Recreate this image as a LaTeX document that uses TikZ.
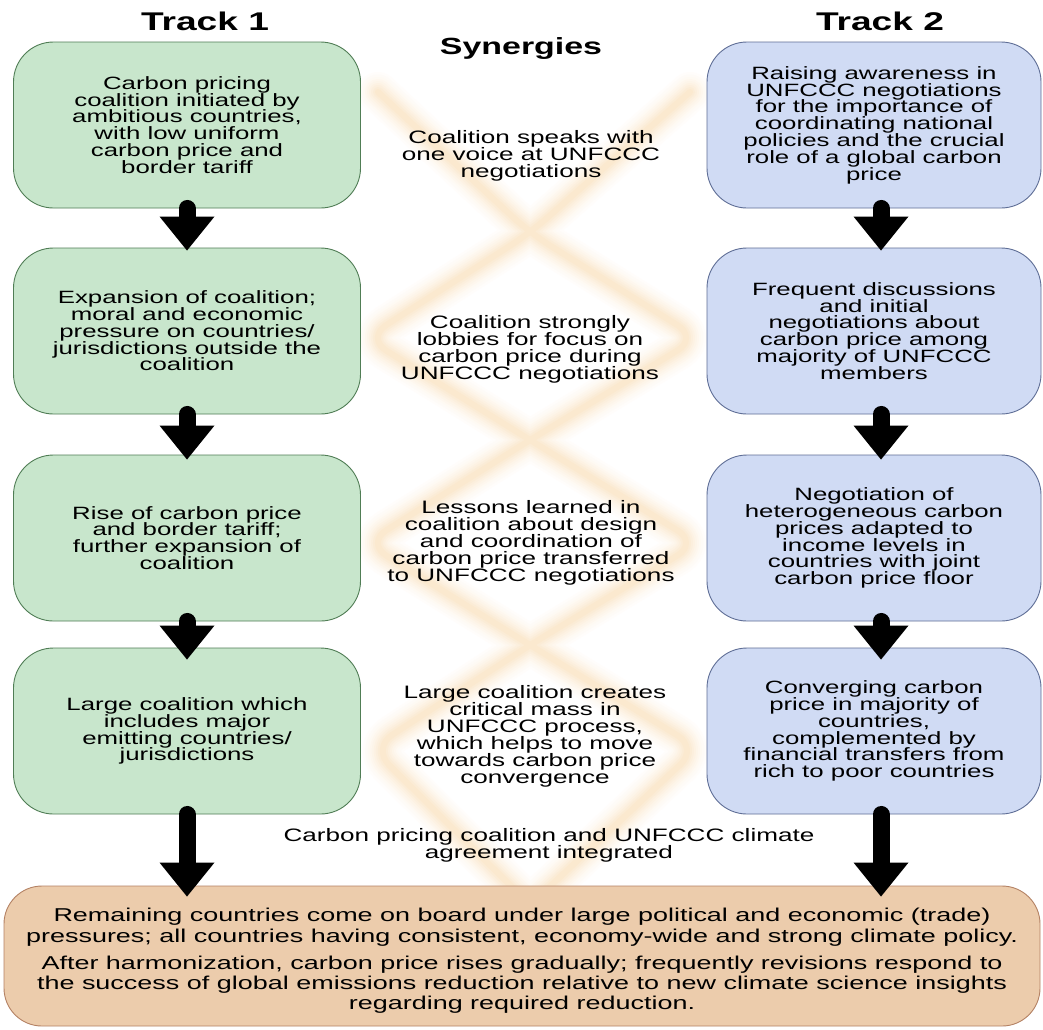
\documentclass[tikz,border=0pt]{standalone}
\usepackage{fontspec}
\setmainfont{Liberation Sans}[FakeStretch=1.45]
\usetikzlibrary{arrows.meta,calc}
\definecolor{gfill}{RGB}{200,230,204}
\definecolor{gline}{RGB}{80,125,85}
\definecolor{bfill}{RGB}{208,219,244}
\definecolor{bline}{RGB}{95,110,150}
\definecolor{ofill}{RGB}{236,204,172}
\definecolor{oline}{RGB}{180,130,100}
\definecolor{haloC}{RGB}{250,228,196}
\begin{document}
\begin{tikzpicture}[x=1pt,y=-1pt,
  box/.style={draw, line width=0.9pt, rounded corners=40pt, align=center, inner sep=0pt,
    font=\fontsize{17.8}{16.8}\selectfont},
  gbox/.style={box, fill=gfill, draw=gline, minimum width=347pt, minimum height=166pt},
  bbox/.style={box, fill=bfill, draw=bline, minimum width=334pt, minimum height=166pt},
  obox/.style={draw=oline, fill=ofill, line width=0.9pt, rounded corners=38pt,
    inner sep=0pt, minimum width=1036pt, minimum height=140pt},
  fintext/.style={align=center, inner sep=0pt, font=\fontsize{18.6}{20.3}\selectfont},
  syn/.style={align=center, inner sep=0pt, font=\fontsize{18}{17}\selectfont},
  ttl/.style={inner sep=0pt, anchor=base, font=\fontsize{25.6}{30}\selectfont\bfseries},
  bigarr/.style={line width=17pt, line cap=round, -{Triangle[width=55pt,length=34pt,line width=0pt]}},
  halo/.style={line join=round, line cap=round, rounded corners=24pt}
]
\fill[white] (0,0) rectangle (1043,1029);
\useasboundingbox (0,0) rectangle (1043,1029);

% background lattice (soft, blurred bands)
\foreach \w/\p in {40/7, 35/13, 30/20, 26/28, 22/37, 18/47, 14/58, 10/70, 6/82} {
  \draw[halo, line width=\w pt, haloC!\p!white] (378,92) -- (530,233) -- (698,338) -- (530,440) -- (366,543)
     -- (530,645) -- (698,748) -- (530,905);
  \draw[halo, line width=\w pt, haloC!\p!white] (690,92) -- (530,233) -- (366,338) -- (530,440) -- (698,543)
     -- (530,645) -- (372,748) -- (530,905);
}

% titles
\node[ttl] (t1) at (205,30) {Track 1};
\node[ttl] (t2) at (880,30) {Track 2};
\node[ttl, font=\fontsize{23.4}{28}\selectfont\bfseries] (syn) at (521,54) {Synergies};

% track 1
\node[gbox] (l1) at (187,125) {Carbon pricing\\coalition initiated by\\ambitious countries,\\with low uniform\\carbon price and\\border tariff};
\node[gbox] (l2) at (187,331) {Expansion of coalition;\\moral and economic\\pressure on countries/\\jurisdictions outside the\\coalition};
\node[gbox] (l3) at (187,538) {Rise of carbon price\\and border tariff;\\further expansion of\\coalition};
\node[gbox] (l4) at (187,731) {Large coalition which\\includes major\\emitting countries/\\jurisdictions};

% track 2
\node[bbox] (r1) at (874,125) {Raising awareness in\\UNFCCC negotiations\\for the importance of\\coordinating national\\policies and the crucial\\role of a global carbon\\price};
\node[bbox] (r2) at (874,331) {Frequent discussions\\and initial\\negotiations about\\carbon price among\\majority of UNFCCC\\members};
\node[bbox] (r3) at (874,538) {Negotiation of\\heterogeneous carbon\\prices adapted to\\income levels in\\countries with joint\\carbon price floor};
\node[bbox] (r4) at (874,731) {Converging carbon\\price in majority of\\countries,\\complemented by\\financial transfers from\\rich to poor countries};

% synergies
\node[syn] (s1) at (531,156) {Coalition speaks with\\one voice at UNFCCC\\negotiations};
\node[syn] (s2) at (530,349) {Coalition strongly\\lobbies for focus on\\carbon price during\\UNFCCC negotiations};
\node[syn] (s3) at (531,543) {Lessons learned in\\coalition about design\\and coordination of\\carbon price transferred\\to UNFCCC negotiations};
\node[syn] (s4) at (535,736) {Large coalition creates\\critical mass in\\UNFCCC process,\\which helps to move\\towards carbon price\\convergence};
\node[syn] (s5) at (549,845) {Carbon pricing coalition and UNFCCC climate\\agreement integrated};

% final box
\node[obox] (fin) at (522,956) {};
\node[fintext] (fint) at (522,961) {Remaining countries come on board under large political and economic (trade)\\pressures; all countries having consistent, economy-wide and strong climate policy.\\[7pt]After harmonization, carbon price rises gradually; frequently revisions respond to\\the success of global emissions reduction relative to new climate science insights\\regarding required reduction.};

% arrows
\draw[bigarr] (l1.south) -- ($(l2.north)+(0,3)$);
\draw[bigarr] (l2.south) -- ($(l3.north)+(0,5)$);
\draw[bigarr] (l3.south) -- ($(l4.north)+(0,12)$);
\draw[bigarr] (l4.south) -- ($(l4.south |- fin.north)+(0,11)$);
\draw[bigarr] ($(r1.south)+(7,0)$) -- ($(r2.north)+(7,3)$);
\draw[bigarr] ($(r2.south)+(7,0)$) -- ($(r3.north)+(7,5)$);
\draw[bigarr] ($(r3.south)+(7,0)$) -- ($(r4.north)+(7,12)$);
\draw[bigarr] ($(r4.south)+(7,0)$) -- ($(r4.south |- fin.north)+(7,11)$);
\end{tikzpicture}
\end{document}
